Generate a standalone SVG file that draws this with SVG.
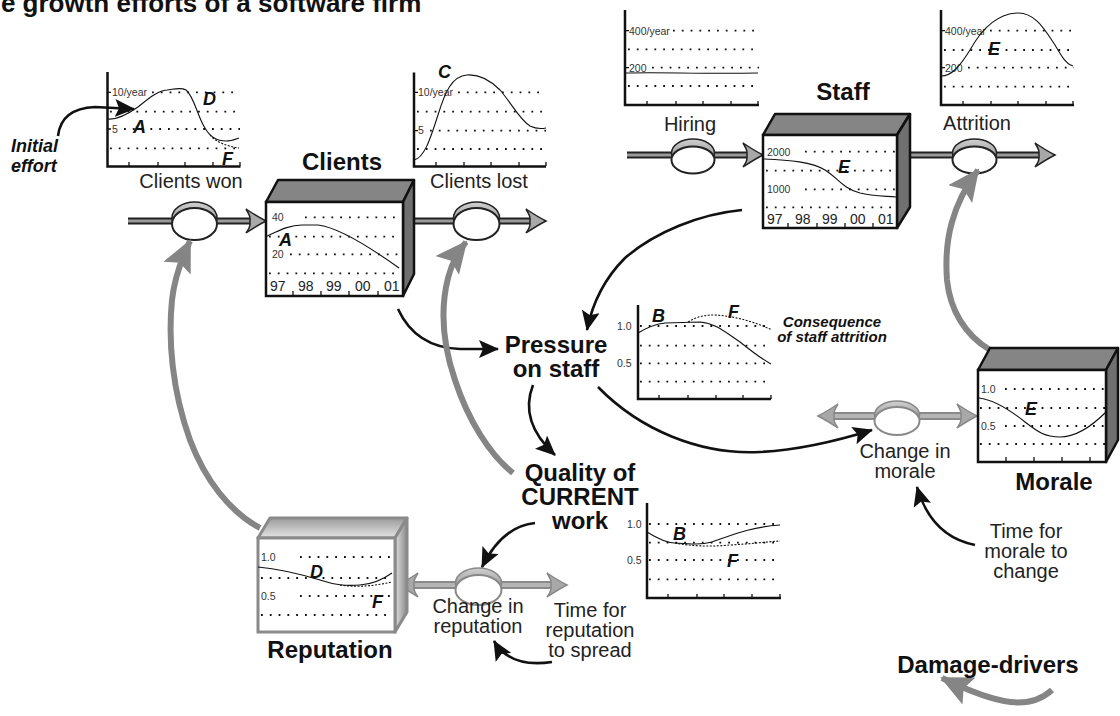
<svg xmlns="http://www.w3.org/2000/svg" width="1120" height="716" viewBox="0 0 1120 716">
<style>
.ax{stroke:#111;stroke-width:2.5;fill:none}
.tk{stroke:#111;stroke-width:1.3;fill:none}
.dot{stroke:#111;stroke-width:1.8;stroke-dasharray:1.8 7;fill:none}
.cv{stroke:#111;stroke-width:1.1;fill:none}
.dsh{stroke:#111;stroke-width:1.1;stroke-dasharray:2 1.5;fill:none}
.sm{font-family:"Liberation Sans",Arial,sans-serif;font-size:10.5px;fill:#333}
.yr{font-family:"Liberation Sans",Arial,sans-serif;font-size:14px;fill:#222}
.lt{font-family:"Liberation Sans",Arial,sans-serif;font-size:18px;font-weight:bold;font-style:italic;fill:#111}
.lbl{font-family:"Liberation Sans",Arial,sans-serif;font-size:20px;fill:#222;text-anchor:middle}
.ttl{font-family:"Liberation Sans",Arial,sans-serif;font-size:24px;font-weight:bold;fill:#111;text-anchor:middle}
.note{font-family:"Liberation Sans",Arial,sans-serif;font-size:15px;font-weight:bold;font-style:italic;fill:#111;text-anchor:middle}
.front{fill:#fff;stroke:#111;stroke-width:2.5}
.top{fill:#858585;stroke:#111;stroke-width:2.5;stroke-linejoin:round}
.side{fill:#707070;stroke:#111;stroke-width:2.5;stroke-linejoin:round}
.rfront{fill:#fff;stroke:#8a8a8a;stroke-width:3}
.bk{stroke:#111;stroke-width:2.6;fill:none;marker-end:url(#ab)}
.gr{stroke:#858585;stroke-width:6;fill:none;marker-end:url(#ag)}
.po{stroke:#222;stroke-width:7;fill:none}
.pi{stroke:#9a9a9a;stroke-width:3;fill:none}
.gpo{stroke:#8a8a8a;stroke-width:8;fill:none}
.gpi{stroke:#b5b5b5;stroke-width:4;fill:none}
.vcap{fill:url(#capg);stroke:#222;stroke-width:1.5}
.vf{fill:#fff;stroke:#222;stroke-width:2}
.gvcap{fill:url(#capg);stroke:#888;stroke-width:1.5}
.gvf{fill:#fff;stroke:#888;stroke-width:2}
.pa{fill:#a8a8a8;stroke:#222;stroke-width:1.5}
.gpa{fill:#a8a8a8;stroke:#888;stroke-width:1.5}
</style>
<defs>
<marker id="ab" markerUnits="userSpaceOnUse" markerWidth="22" markerHeight="18" refX="19" refY="9" orient="auto">
<path d="M0,0 L20,9 L0,18 L4,9 Z" fill="#111"/>
</marker>
<marker id="ag" markerUnits="userSpaceOnUse" markerWidth="34" markerHeight="30" refX="30" refY="15" orient="auto">
<path d="M0,0 L32,15 L0,30 L6,15 Z" fill="#858585"/>
</marker>
<linearGradient id="capg" x1="0" y1="0" x2="0" y2="1">
<stop offset="0" stop-color="#d0d0d0"/>
<stop offset="1" stop-color="#7a7a7a"/>
</linearGradient>
<linearGradient id="rtop" x1="0" y1="0" x2="0" y2="1">
<stop offset="0" stop-color="#9a9a9a"/>
<stop offset="1" stop-color="#e6e6e6"/>
</linearGradient>
<linearGradient id="rside" x1="0" y1="0" x2="1" y2="0">
<stop offset="0" stop-color="#e0e0e0"/>
<stop offset="1" stop-color="#8a8a8a"/>
</linearGradient>
<path id="pa" d="M0,0 C-6,-3 -14,-8 -20,-12 C-17,-7 -16,-5 -16,-3 L-16,3 C-16,5 -17,8 -20,12 C-14,8 -6,3 0,0 Z"/>
</defs>
<rect width="1120" height="716" fill="#fff"/>

<text x="-15" y="12" style="font-family:'Liberation Sans',Arial,sans-serif;font-size:26px;font-weight:bold;fill:#111">he growth efforts of a software firm</text>

<g id="connectors">
<path class="po" d="M128,221 H252"/><path class="pi" d="M128,221 H252"/>
<use href="#pa" class="pa" transform="translate(266,221)"/>
<path class="po" d="M414,221 H532"/><path class="pi" d="M414,221 H532"/>
<use href="#pa" class="pa" transform="translate(546,221)"/>
<path class="po" d="M627,155 H749"/><path class="pi" d="M627,155 H749"/>
<use href="#pa" class="pa" transform="translate(763,155)"/>
<path class="po" d="M910,155 H1041"/><path class="pi" d="M910,155 H1041"/>
<use href="#pa" class="pa" transform="translate(1055,155)"/>
<path class="gpo" d="M832,416 H963"/><path class="gpi" d="M832,416 H963"/>
<use href="#pa" class="gpa" transform="translate(977,416)"/>
<use href="#pa" class="gpa" transform="translate(818,416) scale(-1,1)"/>
<path class="gpo" d="M412,585 H553"/><path class="gpi" d="M412,585 H553"/>
<use href="#pa" class="gpa" transform="translate(567,585)"/>
<use href="#pa" class="gpa" transform="translate(398,585) scale(-1,1)"/>
<ellipse class="vcap" cx="194.5" cy="218" rx="22.5" ry="16"/><ellipse class="vf" cx="194.5" cy="224" rx="22.5" ry="16"/>
<ellipse class="vcap" cx="476.5" cy="218" rx="23" ry="16"/><ellipse class="vf" cx="476.5" cy="224" rx="23" ry="16"/>
<ellipse class="vcap" cx="693" cy="153" rx="21.5" ry="14"/><ellipse class="vf" cx="693" cy="160" rx="21.5" ry="13.5"/>
<ellipse class="vcap" cx="974.5" cy="153" rx="22" ry="14"/><ellipse class="vf" cx="974.5" cy="160" rx="22" ry="13.5"/>
<ellipse class="gvcap" cx="897" cy="415" rx="22.5" ry="14"/><ellipse class="gvf" cx="897" cy="421" rx="22.5" ry="14"/>
<ellipse class="gvcap" cx="478.5" cy="583" rx="23" ry="15"/><ellipse class="gvf" cx="478.5" cy="590" rx="23" ry="15"/>
<path class="bk" d="M58,136 C60,118 72,108 95,107 L134,109"/>
<path class="bk" d="M398,309 C410,335 430,348 460,349 L498,349"/>
<path class="bk" d="M742,210 C700,214 655,232 625,258 C605,278 593,300 587,330"/>
<path class="bk" d="M533,385 C524,408 530,432 555,455"/>
<path class="bk" d="M598,387 C640,430 700,455 760,452 C800,450 840,440 872,430"/>
<path class="bk" d="M535,523 C515,525 497,537 482,567"/>
<path class="bk" d="M975,545 C950,540 928,525 917,487"/>
<path class="bk" d="M552,662 C525,666 505,660 494,641"/>
<path class="gr" d="M260,528 C230,512 205,480 190,440 C172,390 168,340 172,300 C174,282 180,262 190,241"/>
<path class="gr" d="M513,473 C490,455 468,420 455,380 C443,345 440,310 448,278 C452,262 458,252 466,242"/>
<path class="gr" d="M990,350 C965,335 950,310 947,280 C944,240 952,205 978,170"/>
<path class="gr" d="M1052,690 C1030,710 1000,706 942,678"/>
</g>

<g id="clients-won">
<path class="ax" d="M107.5,72 V166.5 H240.5"/>
<path class="tk" d="M129,166 v-4 M158,166 v-4 M185,166 v-4 M213,166 v-4 M240,166 v-4 M107,92.3 h4 M107,129 h4"/>
<path class="dot" d="M152,92.3 H240 M110,111.7 H240 M124,129 H240 M110,148.3 H240"/>
<text class="sm" x="112" y="96">10/year</text>
<text class="sm" x="112" y="132.5">5</text>
<path class="cv" d="M108,119 C118,120 128,114 138,107 C148,99 157,91 167,90 C175,89 181,87 186,90 C194,96 198,118 205,128 C210,137 218,141 226,141 C231,141 236,139 239,138"/>
<path class="dsh" d="M210,135 C216,142 226,146 239,148"/>
<text class="lt" x="133" y="133">A</text>
<text class="lt" x="203" y="105">D</text>
<text class="lt" x="222" y="165">F</text>
<text class="lbl" x="191" y="188">Clients won</text>
<text style="font-family:'Liberation Sans',Arial,sans-serif;font-size:18px;font-weight:bold;font-style:italic;fill:#111"><tspan x="11" y="152">Initial</tspan><tspan x="11" y="172">effort</tspan></text>
</g>

<g id="clients-lost">
<path class="ax" d="M414,72.5 V166.5 H546"/>
<path class="tk" d="M436,166 v-4 M464,166 v-4 M491,166 v-4 M519,166 v-4 M546,166 v-4 M414,92.3 h4 M414,130.7 h4"/>
<path class="dot" d="M458,92.3 H546 M417,111.7 H546 M430,130.7 H546 M417,149 H546"/>
<text class="sm" x="418" y="96">10/year</text>
<text class="sm" x="418" y="134">5</text>
<path class="cv" d="M414,160 C424,158 430,140 438,115 C445,92 452,76 467,75 C480,74 490,80 500,90 C512,104 520,120 530,126 C536,129 541,129 546,128"/>
<text class="lt" x="438" y="78">C</text>
<text class="lbl" x="479" y="188">Clients lost</text>
</g>

<g id="clients">
<path class="top" d="M266,202 L278,180 L414,180 L403,202 Z"/>
<path class="side" d="M403,202 L414,180 L414,274 L403,296 Z"/>
<rect class="front" x="266" y="202" width="137" height="94"/>
<path class="dot" d="M305,217.3 H400 M269,236.7 H400 M290,254.3 H400 M269,273.3 H400"/>
<text class="sm" x="272" y="221">40</text>
<text class="sm" x="272" y="258">20</text>
<path class="tk" d="M293,296 v-5 M321,296 v-5 M349,296 v-5 M378,296 v-5"/>
<text class="yr" x="270" y="291">97</text>
<text class="yr" x="298" y="291">98</text>
<text class="yr" x="326" y="291">99</text>
<text class="yr" x="355" y="291">00</text>
<text class="yr" x="384" y="291">01</text>
<path class="cv" d="M267,236 C280,230 290,225 302,225 L318,225 C335,227 360,240 399,268"/>
<text class="lt" x="279" y="246">A</text>
<text class="ttl" x="342" y="170">Clients</text>
</g>

<g id="hiring">
<path class="ax" d="M625,10 V105 H759"/>
<path class="tk" d="M647,105 v-4 M676,105 v-4 M703,105 v-4 M731,105 v-4 M758,105 v-4 M625,30.7 h4 M625,67.7 h4"/>
<path class="dot" d="M673,30.7 H759 M628,49.3 H759 M652,67.7 H759 M628,86 H759"/>
<text class="sm" x="629" y="34.5">400/year</text>
<text class="sm" x="629" y="71.5">200</text>
<path class="cv" d="M626,73 C660,72 700,74 758,73"/>
<text class="lbl" x="690" y="131">Hiring</text>
</g>

<g id="staff">
<path class="top" d="M763,135 L775,114 L910,114 L897,135 Z"/>
<path class="side" d="M897,135 L910,114 L910,207 L897,228 Z"/>
<rect class="front" x="763" y="135" width="134" height="93"/>
<path class="dot" d="M805,151.7 H895 M766,170.7 H895 M805,189.3 H895 M766,207.3 H895"/>
<text class="sm" x="767" y="155.5">2000</text>
<text class="sm" x="767" y="193">1000</text>
<path class="tk" d="M788,228 v-5 M817,228 v-5 M845,228 v-5 M873,228 v-5"/>
<text class="yr" x="767" y="223.5">97</text>
<text class="yr" x="795" y="223.5">98</text>
<text class="yr" x="822" y="223.5">99</text>
<text class="yr" x="850" y="223.5">00</text>
<text class="yr" x="878" y="223.5">01</text>
<path class="cv" d="M764,159 C790,160 812,162 825,170 C838,178 842,188 860,193 C872,196 885,196 896,197"/>
<text class="lt" x="838" y="173">E</text>
<text class="ttl" x="843" y="100">Staff</text>
</g>

<g id="attrition">
<path class="ax" d="M941,10 V105 H1074"/>
<path class="tk" d="M963,105 v-4 M991,105 v-4 M1018,105 v-4 M1046,105 v-4 M1073,105 v-4 M941,30.7 h4 M941,67.7 h4"/>
<path class="dot" d="M990,30.7 H1074 M944,50 H1074 M968,67.7 H1074 M944,86.7 H1074"/>
<text class="sm" x="945" y="34.5">400/year</text>
<text class="sm" x="945" y="71.5">200</text>
<path class="cv" d="M941,76 C952,76 960,66 970,50 C980,32 995,14 1017,13 C1035,12 1045,30 1055,45 C1062,57 1066,64 1073,66"/>
<text class="lt" x="988" y="55">E</text>
<text class="lbl" x="977" y="130">Attrition</text>
</g>

<g id="pressure">
<text class="ttl"><tspan x="556" y="353">Pressure</tspan><tspan x="556" y="377">on staff</tspan></text>
<path class="ax" d="M638,305 V399 H771"/>
<path class="tk" d="M659,399 v-4 M688,399 v-4 M716,399 v-4 M743,399 v-4 M771,399 v-4"/>
<path class="dot" d="M640,326 H771 M640,345.7 H771 M640,363.3 H771 M640,381.7 H771"/>
<text class="sm" x="617" y="329.5">1.0</text>
<text class="sm" x="617" y="367">0.5</text>
<path class="cv" d="M638,333 C648,327 655,324 665,323 L700,322 C715,323 725,332 740,342 C750,350 760,358 771,364"/>
<path class="dsh" d="M688,322 C698,316 705,315 715,315 C735,316 755,322 772,330"/>
<text class="lt" x="652" y="322">B</text>
<text class="lt" x="728" y="318">F</text>
<text class="note"><tspan x="832" y="327">Consequence</tspan><tspan x="832" y="342">of staff attrition</tspan></text>
</g>

<g id="morale">
<path class="top" d="M978,370 L990,348 L1118,348 L1106,370 Z"/>
<path class="side" d="M1106,370 L1118,348 L1118,440 L1106,462 Z"/>
<rect class="front" x="978" y="370" width="128" height="92"/>
<path class="dot" d="M1005,389 H1106 M980,408 H1106 M1005,426 H1106 M980,444 H1106"/>
<text class="sm" x="981" y="392.5">1.0</text>
<text class="sm" x="981" y="429.5">0.5</text>
<path class="tk" d="M1006,462 v-5 M1034,462 v-5 M1062,462 v-5 M1090,462 v-5"/>
<path class="cv" d="M979,398 C995,400 1010,410 1025,422 C1038,432 1045,437 1060,437 C1075,437 1090,428 1106,412"/>
<text class="lt" x="1025" y="415">E</text>
<text class="ttl" x="1054" y="490">Morale</text>
</g>

<g id="change-in-morale">
<text class="lbl"><tspan x="905" y="458">Change in</tspan><tspan x="905" y="478">morale</tspan></text>
</g>

<g id="time-morale">
<text class="lbl"><tspan x="1026" y="538">Time for</tspan><tspan x="1026" y="558">morale to</tspan><tspan x="1026" y="578">change</tspan></text>
</g>

<g id="quality">
<text class="ttl"><tspan x="580" y="481">Quality of</tspan><tspan x="580" y="505">CURRENT</tspan><tspan x="580" y="529">work</tspan></text>
<path class="ax" d="M647,503 V598 H781"/>
<path class="tk" d="M668,598 v-4 M697,598 v-4 M724,598 v-4 M752,598 v-4 M780,598 v-4"/>
<path class="dot" d="M649,524 H781 M649,542.7 H781 M649,560 H781 M649,579.3 H781"/>
<text class="sm" x="627" y="527.5">1.0</text>
<text class="sm" x="627" y="563.5">0.5</text>
<path class="cv" d="M647,532 C655,537 665,543 675,543 C690,544 700,545 712,542 C730,536 750,527 780,525"/>
<path class="dsh" d="M675,543 C690,546 710,547 730,545 C750,544 765,542 780,541"/>
<text class="lt" x="673" y="540">B</text>
<text class="lt" x="727" y="567">F</text>
</g>

<g id="reputation">
<path d="M258,538 L270,518 L407,518 L395,538 Z" fill="url(#rtop)" stroke="#8a8a8a" stroke-width="3" stroke-linejoin="round"/>
<path d="M395,538 L407,518 L407,612 L395,632 Z" fill="url(#rside)" stroke="#8a8a8a" stroke-width="3" stroke-linejoin="round"/>
<rect class="rfront" x="258" y="538" width="137" height="94"/>
<path class="dot" d="M300,557 H392 M261,578 H392 M300,596 H392 M261,615 H392"/>
<text class="sm" x="261" y="560.5">1.0</text>
<text class="sm" x="261" y="599.5">0.5</text>
<path class="cv" d="M258,567 C280,569 300,574 320,580 C335,585 345,586 360,585 C375,584 385,578 392,573"/>
<path class="dsh" d="M340,585 C360,588 378,585 392,582"/>
<text class="lt" x="310" y="578">D</text>
<text class="lt" x="372" y="608">F</text>
<text class="ttl" x="330" y="658">Reputation</text>
</g>

<g id="change-in-reputation">
<text class="lbl"><tspan x="478" y="613">Change in</tspan><tspan x="478" y="633">reputation</tspan></text>
</g>

<g id="time-reputation">
<text class="lbl"><tspan x="590" y="617">Time for</tspan><tspan x="590" y="637">reputation</tspan><tspan x="590" y="657">to spread</tspan></text>
</g>

<g id="damage-drivers">
<text class="ttl" x="988" y="673">Damage-drivers</text>
</g>
</svg>
